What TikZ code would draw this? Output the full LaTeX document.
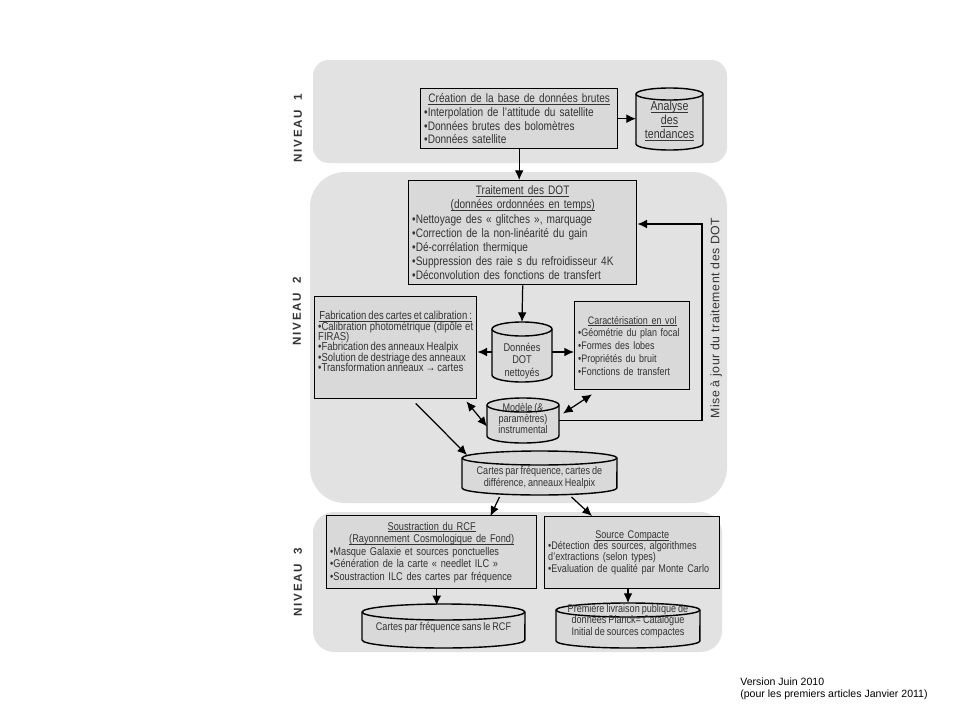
\documentclass[tikz,border=0pt]{standalone}
\usepackage{fontspec}
\setmainfont{Liberation Sans}
\newfontfamily\cond{Liberation Sans}[FakeStretch=0.82,WordSpace=0.8]
\newfontfamily\lvlfont{Liberation Sans}[LetterSpace=15]
\newfontfamily\spfont{Liberation Sans}[LetterSpace=4]
\usetikzlibrary{arrows.meta,calc}
\definecolor{panel}{HTML}{E2E2E2}
\definecolor{boxfill}{HTML}{D9D9D9}
\definecolor{txt}{HTML}{333333}
\newcommand\fs[2]{\fontsize{#1}{#2}\selectfont\lineskiplimit=-10pt\lineskip=0pt}
\newcommand\myul[1]{\setbox0\hbox{#1}\rlap{\rule[-1.1pt]{\wd0}{0.4pt}}\box0}
\newcommand\ttl[1]{\makebox[\hsize][c]{\myul{#1}}}
\newcommand\mycyl[9]{%
  \path[cylshape] ({#2-#4/2},{#3-#5/2+#6}) -- ({#2-#4/2},{#3+#5/2-#6})
    arc[start angle=180,end angle=360,x radius={#4*0.01cm},y radius={#6*0.02cm}]
    -- ({#2+#4/2},{#3-#5/2+#6})
    arc[start angle=0,end angle=180,x radius={#4*0.01cm},y radius={#6*0.02cm}] -- cycle;
  \draw[cylline] ({#2-#4/2},{#3-#5/2+#6})
    arc[start angle=180,end angle=360,x radius={#4*0.01cm},y radius={#6*0.02cm}];
  \node[cylnode, minimum width={#4*0.02cm}, minimum height={#5*0.02cm}] (#1) at (#2,#3) {};
  \node[cyltext, font={#7}] (#1-t) at (#2,#9) {#8};
}
\tikzset{
  panelbg/.style={fill=panel},
  box/.style={draw=black, line width=0.8pt, fill=boxfill, inner sep=2pt,
    anchor=north west, align=left, text=txt},
  cylshape/.style={draw=black, line width=0.8pt, fill=boxfill},
  cylline/.style={draw=black, line width=0.8pt},
  cylnode/.style={inner sep=0pt, outer sep=0pt},
  cyltext/.style={align=center, text=txt, inner sep=0pt},
  arr/.style={draw=black, line width=0.7pt, -{Latex[length=5.5pt,width=5pt]}},
  darr/.style={draw=black, line width=0.7pt, {Latex[length=5.5pt,width=5pt]}-{Latex[length=5.5pt,width=5pt]}},
  lvl/.style={rotate=90, text=black!80, font=\lvlfont\bfseries\fs{6.6}{8}},
}
\begin{document}
\begin{tikzpicture}[x=0.02cm,y=-0.02cm]
\useasboundingbox[fill=white] (0,0) rectangle (960,720);
% panels
\path[panelbg, rounded corners=9pt] (313,60) rectangle (727,163);
\path[panelbg, rounded corners=20pt] (310,172) rectangle (727,503);
\path[panelbg, rounded corners=12pt] (313,512) rectangle (722,652);
% level labels
\node[lvl] (n1) at (298,128) {NIVEAU\ \ 1};
\node[lvl] (n2) at (297,311) {NIVEAU\ \ 2};
\node[lvl] (n3) at (298,582) {NIVEAU\ \ 3};
% level 1
\node[box, minimum width=3.94cm, minimum height=1.2cm, text width=3.8cm,
  font=\cond\fs{7}{7.9}] (crea) at (420,88)
  {\ttl{Création de la base de données brutes}\\
   •Interpolation de l’attitude du satellite\\
   •Données brutes des bolomètres\\
   •Données satellite};
\mycyl{ana}{669.5}{119}{67}{62}{6}{\cond\fs{7.4}{8}}{\myul{Analyse}\\\myul{des}\\\myul{tendances}}{121}
% level 2
\node[box, minimum width=4.56cm, minimum height=2.08cm, text width=4.42cm,
  font=\cond\fs{7}{8}] (trait) at (408,180)
  {\ttl{Traitement des DOT}\\
   \ttl{(données ordonnées en temps)}\\
   •Nettoyage des « glitches », marquage\\
   •Correction de la non-linéarité du gain\\
   •Dé-corrélation thermique\\
   •Suppression des raie s du refroidisseur 4K\\
   •Déconvolution des fonctions de transfert};
\node[box, minimum width=3.24cm, minimum height=2.04cm, text width=3.1cm,
  align=justify, font=\cond\fs{6.6}{5.9}] (fab) at (314,296)
  {\ttl{Fabrication des cartes et calibration :}\par
   \makebox[\hsize][s]{•Calibration photométrique (dipôle et}\par
   FIRAS)\par
   •Fabrication des anneaux Healpix\par
   •Solution de destriage des anneaux\par
   •Transformation anneaux → cartes\par\vspace*{7pt}};
\mycyl{don}{522}{352}{60}{60}{7}{\cond\fs{6.4}{6.9}}{Données\\DOT\\nettoyés}{361}
\node[box, minimum width=2.3cm, minimum height=1.76cm, text width=2.16cm,
  font=\cond\fs{6.2}{7.3}] (car) at (574,301)
  {\ttl{Caractérisation en vol}\\
   •Géométrie du plan focal\\
   •Formes des lobes\\
   •Propriétés du bruit\\
   •Fonctions de transfert};
\mycyl{mod}{523}{420.5}{72}{45}{7}{\cond\fs{6.3}{6.5}}{Modèle (\&\\paramètres)\\instrumental}{418.5}
\mycyl{cartes}{539.5}{473}{155}{44}{7}{\cond\fs{6.3}{6.4}}{Cartes par fréquence, cartes de\\différence, anneaux Healpix}{477.5}
% level 3
\node[box, minimum width=4.2cm, minimum height=1.46cm, text width=4.06cm,
  font=\cond\fs{6.4}{7.1}] (sous) at (326,515)
  {\ttl{Soustraction du RCF}\\
   \ttl{(Rayonnement Cosmologique de Fond)}\\
   •Masque Galaxie et sources ponctuelles\\
   •Génération de la carte « needlet ILC »\\
   •Soustraction ILC des cartes par fréquence};
\node[box, minimum width=3.5cm, minimum height=1.44cm, text width=3.36cm,
  font=\cond\fs{6.3}{6.3}] (src) at (544,516)
  {\ttl{Source Compacte}\\
   •Détection des sources, algorithmes\\
   d’extractions (selon types)\\
   •Evaluation de qualité par Monte Carlo};
\mycyl{rcf}{443.5}{626}{163}{44}{8}{\cond\fs{6.3}{7}}{Cartes par fréquence sans le RCF}{628}
\mycyl{prem}{628}{625.5}{144}{45}{7}{\cond\fs{6.3}{6.3}}{Première livraison publique de\\données Planck= Catalogue\\Initial de sources compactes}{621}
% side label
\node[rotate=90, text=txt, font=\spfont\fs{7}{8}] (maj) at (716,318) {Mise à jour du traitement des DOT};
% version
\node[anchor=north west, align=left, text=black, inner sep=0pt, font=\fs{6}{6.4}] (ver) at (740,678)
  {Version Juin 2010\\(pour les premiers articles Janvier 2011)};
% connectors
\draw[arr] (crea.east) -- (crea.east -| ana.west);
\draw[arr] (crea.south) -- (crea.south |- trait.north);
\draw[arr] (trait.south) -- (don.north);
\draw[arr] (don.west) -- (don.west -| fab.east);
\draw[arr] (don.east) -- (don.east -| car.west);
\coordinate (fbT) at (702,224);
\draw[arr] (mod.east) -| (fbT) -- (fbT -| trait.east);
\draw[darr] ($(fab.south east)+(-11,2)$) -- ($(mod.west)+(0,6)$);
\draw[darr] ($(mod.east)+(4,-7)$) -- ($(car.south west)+(18,4)$);
\draw[arr] ($(fab.south)+(20,4)$) -- ($(cartes.north west)+(5,4)$);
\draw[arr] ($(cartes.south)+(-40,2)$) -- ($(sous.north east)+(-47,1)$);
\draw[arr] ($(cartes.south)+(32,2)$) -- ($(src.north west)+(48,0)$);
\draw[arr] ($(sous.south)+(5,0)$) -- ($(sous.south)+(5,16)$);
\draw[arr] (prem.north |- src.south) -- (prem.north);
\end{tikzpicture}
\end{document}
